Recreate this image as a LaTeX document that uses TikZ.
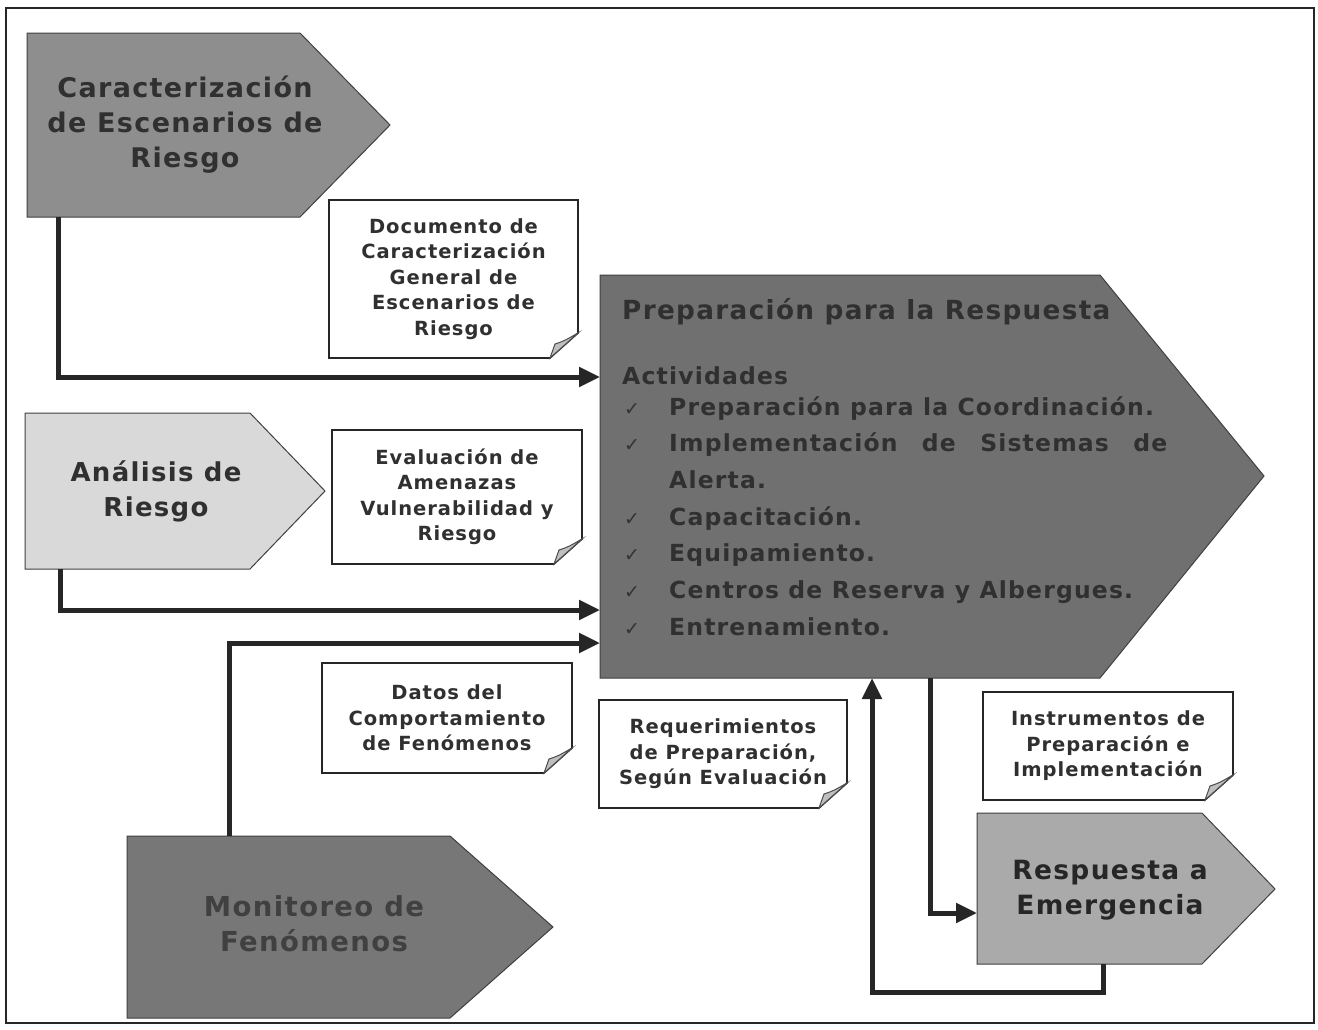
\documentclass[tikz,border=0pt]{standalone}
\usepackage{fontspec}
\setmainfont{DejaVu Sans}[LetterSpace=5]
\usetikzlibrary{arrows.meta}
\definecolor{fCar}{HTML}{8E8E8E}
\definecolor{fAna}{HTML}{D9D9D9}
\definecolor{fPre}{HTML}{707070}
\definecolor{fMon}{HTML}{777777}
\definecolor{fRes}{HTML}{AAAAAA}
\definecolor{txt}{HTML}{303030}
\definecolor{lnc}{HTML}{262626}
\newcommand\notebox[6]{%
  \draw[notedraw] (#2,#3) -- (#4,#3) -- (#4,#5-25) -- (#4-28,#5) -- (#2,#5) -- cycle;
  \draw[folddraw] (#4-28,#5) -- (#4-23,#5-14) .. controls (#4-14,#5-17) .. (#4,#5-25) -- cycle;
  \node[notetext] (#1) at ({(#2+#4)/2},{(#3+#5)/2}) {#6};
}
\begin{document}
\begin{tikzpicture}[x=1pt,y=-1pt,
  shp/.style={draw=black!75, line width=1pt},
  notedraw/.style={draw=black!85, line width=1.6pt, fill=white},
  folddraw/.style={draw=black!70, line width=1pt, fill=black!25},
  notetext/.style={align=center, text=txt, font=\fontsize{19.5}{25.5}\selectfont\bfseries, inner sep=0pt},
  bigtext/.style={align=center, text=txt, font=\fontsize{26.5}{35}\selectfont\bfseries, inner sep=0pt},
  itemtext/.style={anchor=base west, text=txt, font=\fontsize{23.5}{37}\selectfont\bfseries, inner sep=0pt},
  chk/.style={anchor=base, text=black!80, font=\fontsize{19}{19}\selectfont\bfseries, inner sep=0pt},
  conn/.style={line width=5pt, draw=lnc, line join=miter, -{Triangle[length=21pt,width=19pt]}}]
\useasboundingbox (0,0) rectangle (1318,1029);
\fill[white] (0,0) rectangle (1318,1029);
\draw[line width=1.6pt, draw=black!85] (6,8) rectangle (1314,1023);

% pentagons
\draw[shp, fill=fCar] (27,33) -- (300,33) -- (390,125) -- (300,217) -- (27,217) -- cycle;
\draw[shp, fill=fAna] (25,413) -- (250,413) -- (325,491) -- (250,569) -- (25,569) -- cycle;
\draw[shp, fill=fMon] (127,836) -- (450,836) -- (553,927) -- (450,1018) -- (127,1018) -- cycle;
\draw[shp, fill=fPre] (600,275) -- (1100,275) -- (1264,476) -- (1100,678) -- (600,678) -- cycle;
\draw[shp, fill=fRes] (977,813) -- (1202,813) -- (1275,889) -- (1202,964) -- (977,964) -- cycle;

\node[bigtext, font=\fontsize{27}{35}\selectfont\bfseries] (car) at (185,125) {Caracterización\\de Escenarios de\\Riesgo};
\node[bigtext, font=\fontsize{26}{35}\selectfont\bfseries] (ana) at (156,491) {Análisis de\\Riesgo};
\node[bigtext, text=black!75, font=\fontsize{27.5}{35}\selectfont\bfseries] (mon) at (314,924) {Monitoreo de\\Fenómenos};
\node[bigtext, text=black!85] (res) at (1110,890) {Respuesta a\\Emergencia};

% Preparación texts
\node[itemtext, font=\fontsize{26.3}{37}\selectfont\bfseries] (pre) at (622,319) {Preparación para la Respuesta};
\node[itemtext] (act) at (622,384) {Actividades};
\node[chk] (k1) at (632,415) {✓};
\node[itemtext] (i1) at (669,415) {Preparación para la Coordinación.};
\node[chk] (k2) at (632,451) {✓};
\node[itemtext] (i2) at (669,451) {\makebox[498pt][s]{Implementación de Sistemas de}};
\node[itemtext] (i2b) at (669,488) {Alerta.};
\node[chk] (k3) at (632,525) {✓};
\node[itemtext] (i3) at (669,525) {Capacitación.};
\node[chk] (k4) at (632,561) {✓};
\node[itemtext] (i4) at (669,561) {Equipamiento.};
\node[chk] (k5) at (632,598) {✓};
\node[itemtext] (i5) at (669,598) {Centros de Reserva y Albergues.};
\node[chk] (k6) at (632,635) {✓};
\node[itemtext] (i6) at (669,635) {Entrenamiento.};

% notes
\notebox{doc}{329}{200}{578}{358}{Documento de\\Caracterización\\General de\\Escenarios de\\Riesgo}
\notebox{eva}{332}{430}{582}{564}{Evaluación de\\Amenazas\\Vulnerabilidad y\\Riesgo}
\notebox{dat}{322}{663}{572}{773}{Datos del\\Comportamiento\\de Fenómenos}
\notebox{req}{599}{700}{847}{808}{Requerimientos\\de Preparación,\\Según Evaluación}
\notebox{ins}{983}{692}{1233}{800}{Instrumentos de\\Preparación e\\Implementación}

% connector end points
\coordinate (carB) at (58,217);
\coordinate (anaB) at (60,569);
\coordinate (monT) at (229,836);
\coordinate (preW1) at (600,377);
\coordinate (preW2) at (600,610);
\coordinate (preW3) at (600,643);
\coordinate (preS1) at (872,678);
\coordinate (preS2) at (930,678);
\coordinate (resW) at (977,913);
\coordinate (resS) at (1103,964);
\coordinate (bend) at (1103,992);

\draw[conn] (carB) |- (preW1);
\draw[conn] (anaB) |- (preW2);
\draw[conn] (monT) |- (preW3);
\draw[conn] (preS2) |- (resW);
\draw[conn] (resS) -- (bend) -| (preS1);
\end{tikzpicture}
\end{document}
